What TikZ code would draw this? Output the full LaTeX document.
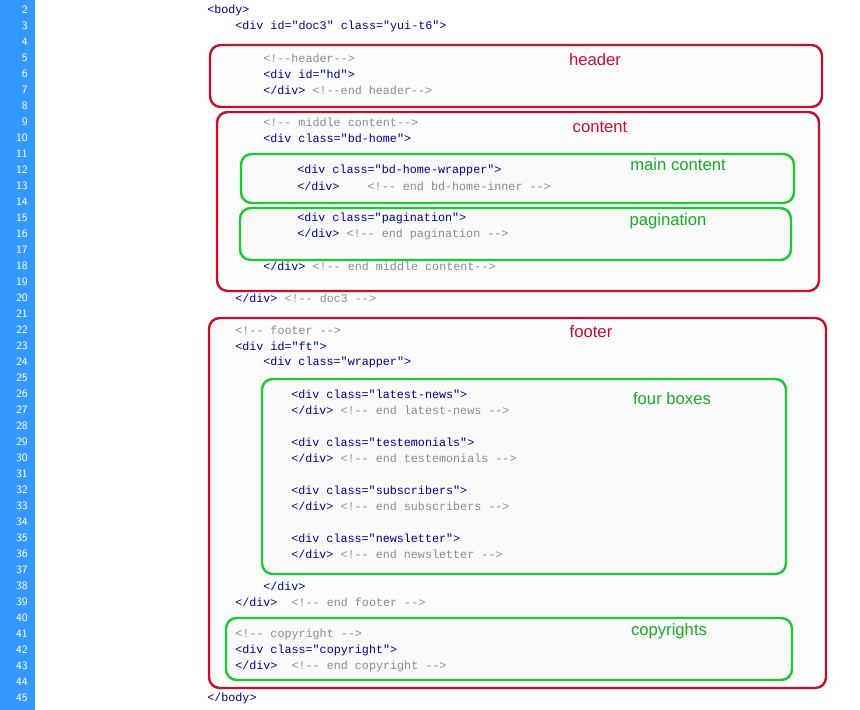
\documentclass[tikz,border=0pt]{standalone}
\usepackage{fontspec}
\setmainfont{Liberation Sans}
\setmonofont{Liberation Mono}
\begin{document}
\definecolor{barblue}{RGB}{51,153,255}
\definecolor{tagc}{RGB}{0,0,150}
\definecolor{cmc}{RGB}{140,140,140}
\definecolor{redb}{RGB}{200,16,46}
\definecolor{greenb}{RGB}{30,200,50}
\begin{tikzpicture}[x=0.75pt,y=-0.75pt,
  code/.style={anchor=west,inner sep=0,font=\ttfamily\fontsize{8.8}{10}\selectfont},
  num/.style={anchor=east,inner sep=0,text=white,font=\sffamily\fontsize{8.5}{9}\selectfont},
  rbox/.style={draw=redb,line width=1.8pt,rounded corners=8pt,fill=gray!3},
  gbox/.style={draw=greenb,line width=1.8pt,rounded corners=8pt,fill=gray!5},
  rlab/.style={text=redb,font=\fontsize{12.5}{14}\selectfont},
  glab/.style={text=greenb!85!black,font=\fontsize{12.5}{14}\selectfont}]
\useasboundingbox (0,0) rectangle (860,710);
\fill[white] (0,0) rectangle (860,710);
\fill[barblue] (0,0) rectangle (35,710);
\foreach \n in {2,...,45} \node[num] (n\n) at (28,{10+(\n-2)*16}) {\n};
\node[rbox] (hdbox) at (516,76) [minimum width=612*0.75pt, minimum height=62*0.75pt] {};
\node[rbox] (bdbox) at (518,201.5) [minimum width=602*0.75pt, minimum height=179*0.75pt] {};
\node[gbox] (mcbox) at (517.5,178.5) [minimum width=553*0.75pt, minimum height=49*0.75pt] {};
\node[gbox] (pgbox) at (515.5,234) [minimum width=551*0.75pt, minimum height=52*0.75pt] {};
\node[rbox] (ftbox) at (517.5,503) [minimum width=617*0.75pt, minimum height=370*0.75pt] {};
\node[gbox] (fbbox) at (524,476.5) [minimum width=524*0.75pt, minimum height=195*0.75pt] {};
\node[gbox] (cpbox) at (509,649) [minimum width=566*0.75pt, minimum height=62*0.75pt] {};
\newcommand{\lnY}[1]{{10+(#1-2)*16}}
\node[code] (l2) at (207,\lnY{2}) {\textcolor{tagc}{<body>}};
\node[code] (l3) at (235,\lnY{3}) {\textcolor{tagc}{<div id="doc3" class="yui-t6">}};
\node[code] (l5) at (263,\lnY{5}) {\textcolor{cmc}{<!--header-->}};
\node[code] (l6) at (263,\lnY{6}) {\textcolor{tagc}{<div id="hd">}};
\node[code] (l7) at (263,\lnY{7}) {\textcolor{tagc}{</div>} \textcolor{cmc}{<!--end header-->}};
\node[code] (l9) at (263,\lnY{9}) {\textcolor{cmc}{<!-- middle content-->}};
\node[code] (l10) at (263,\lnY{10}) {\textcolor{tagc}{<div class="bd-home">}};
\node[code] (l12) at (297,\lnY{12}) {\textcolor{tagc}{<div class="bd-home-wrapper">}};
\node[code] (l13) at (297,\lnY{13}) {\textcolor{tagc}{</div>}\ \ \ \ \textcolor{cmc}{<!-- end bd-home-inner -->}};
\node[code] (l15) at (297,\lnY{15}) {\textcolor{tagc}{<div class="pagination">}};
\node[code] (l16) at (297,\lnY{16}) {\textcolor{tagc}{</div>} \textcolor{cmc}{<!-- end pagination -->}};
\node[code] (l18) at (263,\lnY{18}) {\textcolor{tagc}{</div>} \textcolor{cmc}{<!-- end middle content-->}};
\node[code] (l20) at (235,\lnY{20}) {\textcolor{tagc}{</div>} \textcolor{cmc}{<!-- doc3 -->}};
\node[code] (l22) at (235,\lnY{22}) {\textcolor{cmc}{<!-- footer -->}};
\node[code] (l23) at (235,\lnY{23}) {\textcolor{tagc}{<div id="ft">}};
\node[code] (l24) at (263,\lnY{24}) {\textcolor{tagc}{<div class="wrapper">}};
\node[code] (l26) at (291,\lnY{26}) {\textcolor{tagc}{<div class="latest-news">}};
\node[code] (l27) at (291,\lnY{27}) {\textcolor{tagc}{</div>} \textcolor{cmc}{<!-- end latest-news -->}};
\node[code] (l29) at (291,\lnY{29}) {\textcolor{tagc}{<div class="testemonials">}};
\node[code] (l30) at (291,\lnY{30}) {\textcolor{tagc}{</div>} \textcolor{cmc}{<!-- end testemonials -->}};
\node[code] (l32) at (291,\lnY{32}) {\textcolor{tagc}{<div class="subscribers">}};
\node[code] (l33) at (291,\lnY{33}) {\textcolor{tagc}{</div>} \textcolor{cmc}{<!-- end subscribers -->}};
\node[code] (l35) at (291,\lnY{35}) {\textcolor{tagc}{<div class="newsletter">}};
\node[code] (l36) at (291,\lnY{36}) {\textcolor{tagc}{</div>} \textcolor{cmc}{<!-- end newsletter -->}};
\node[code] (l38) at (263,\lnY{38}) {\textcolor{tagc}{</div>}};
\node[code] (l39) at (235,\lnY{39}) {\textcolor{tagc}{</div>}\ \ \textcolor{cmc}{<!-- end footer -->}};
\node[code] (l41) at (235,\lnY{41}) {\textcolor{cmc}{<!-- copyright -->}};
\node[code] (l42) at (235,\lnY{42}) {\textcolor{tagc}{<div class="copyright">}};
\node[code] (l43) at (235,\lnY{43}) {\textcolor{tagc}{</div>}\ \ \textcolor{cmc}{<!-- end copyright -->}};
\node[code] (l45) at (207,\lnY{45}) {\textcolor{tagc}{</body>}};
\node[rlab] (thd) at (595,60) {header};
\node[rlab] (tbd) at (600,127) {content};
\node[glab] (tmc) at (678,165) {main content};
\node[glab] (tpg) at (668,221) {pagination};
\node[rlab] (tft) at (591,332) {footer};
\node[glab] (tfb) at (672,399) {four boxes};
\node[glab] (tcp) at (669,631) {copyrights};
\end{tikzpicture}
\end{document}
